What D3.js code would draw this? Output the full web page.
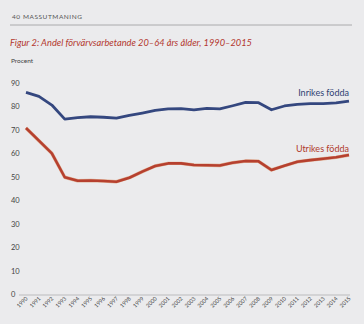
<!DOCTYPE html>
<html>
<head>
<meta charset="utf-8">
<script src="https://cdn.jsdelivr.net/npm/d3@7"></script>
<style>
  html, body { margin: 0; padding: 0; background: #ebebed; }
  svg { display: block; }
</style>
</head>
<body>
<svg id="chart" width="364" height="324"></svg>
<script>
// Employment rate, ages 20–64, by place of birth (per cent)
const years = d3.range(1990, 2016);
const inrikes = [86, 84.3, 80.6, 74.6, 75.2, 75.6, 75.4, 75.0, 76.2, 77.2, 78.3, 79.0, 79.1, 78.5, 79.2, 79.0, 80.3, 81.7, 81.6, 78.6, 80.2, 80.9, 81.2, 81.2, 81.5, 82.3];
const utrikes = [70.8, 65.4, 60.0, 49.8, 48.3, 48.4, 48.2, 47.9, 49.6, 52.2, 54.6, 55.7, 55.7, 55.0, 54.9, 54.8, 56.0, 56.7, 56.6, 52.9, 54.7, 56.4, 57.1, 57.7, 58.3, 59.3];
const yTicks = [0, 10, 20, 30, 40, 50, 60, 70, 80, 90];
const seriesNames = ["Inrikes födda", "Utrikes födda"];

const svg = d3.select("#chart");
const font = "Lato, 'Open Sans', sans-serif";

// Page header
svg.append("text")
  .attr("x", 12).attr("y", 19)
  .attr("font-family", font).attr("font-size", 6.5)
  .attr("fill", "#555")
  .attr("textLength", 70).attr("lengthAdjust", "spacing")
  .text("40  MASSUTMANING");
svg.append("line")
  .attr("x1", 10).attr("x2", 352).attr("y1", 25).attr("y2", 25)
  .attr("stroke", "#9a9a9c").attr("stroke-width", 0.8);

svg.append("text")
  .attr("x", 10).attr("y", 46)
  .attr("font-family", font).attr("font-style", "italic")
  .attr("font-size", 10).attr("fill", "#b3382e")
  .attr("textLength", 242).attr("lengthAdjust", "spacingAndGlyphs")
  .text("Figur 2: Andel förvärvsarbetande 20–64 års ålder, 1990–2015");

svg.append("text")
  .attr("x", 11).attr("y", 63)
  .attr("font-family", font).attr("font-size", 6.5).attr("fill", "#444")
  .text("Procent");

const x = d3.scalePoint().domain(years).range([26, 349]);
const y = d3.scaleLinear().domain([0, 90]).range([294, 83]);

// Y tick labels
svg.append("g").selectAll("text").data(yTicks).join("text")
  .attr("x", 11).attr("y", d => y(d) + 3)
  .attr("font-family", font).attr("font-size", 7.5).attr("fill", "#444")
  .text(d => d);

// Baseline
svg.append("line")
  .attr("x1", 19).attr("x2", 350).attr("y1", y(0) + 1).attr("y2", y(0) + 1)
  .attr("stroke", "#a8a8aa").attr("stroke-width", 0.7);

// Rotated year labels
svg.append("g").selectAll("text").data(years).join("text")
  .attr("transform", d => `translate(${x(d) + 2},${y(0) + 5}) rotate(-45)`)
  .attr("text-anchor", "end")
  .attr("font-family", font).attr("font-size", 5.5).attr("fill", "#444")
  .text(d => d);

const line = d3.line().x((d, i) => x(years[i])).y(d => y(d));

// Red series with a faint warm edge
svg.append("path").datum(utrikes)
  .attr("d", line).attr("fill", "none")
  .attr("stroke", "#d9885a").attr("stroke-width", 3.4).attr("stroke-linejoin", "round").attr("opacity", 0.6);
svg.append("path").datum(utrikes)
  .attr("d", line).attr("fill", "none")
  .attr("stroke", "#b6402f").attr("stroke-width", 2.6).attr("stroke-linejoin", "round");

svg.append("path").datum(inrikes)
  .attr("d", line).attr("fill", "none")
  .attr("stroke", "#34477f").attr("stroke-width", 2.8).attr("stroke-linejoin", "round");

// Series labels
svg.append("text")
  .attr("x", 349).attr("y", 96).attr("text-anchor", "end")
  .attr("font-family", font).attr("font-size", 9).attr("fill", "#2f3f73")
  .text(seriesNames[0]);
svg.append("text")
  .attr("x", 349).attr("y", 152).attr("text-anchor", "end")
  .attr("font-family", font).attr("font-size", 9).attr("fill", "#b03a2c")
  .text(seriesNames[1]);
</script>
</body>
</html>
